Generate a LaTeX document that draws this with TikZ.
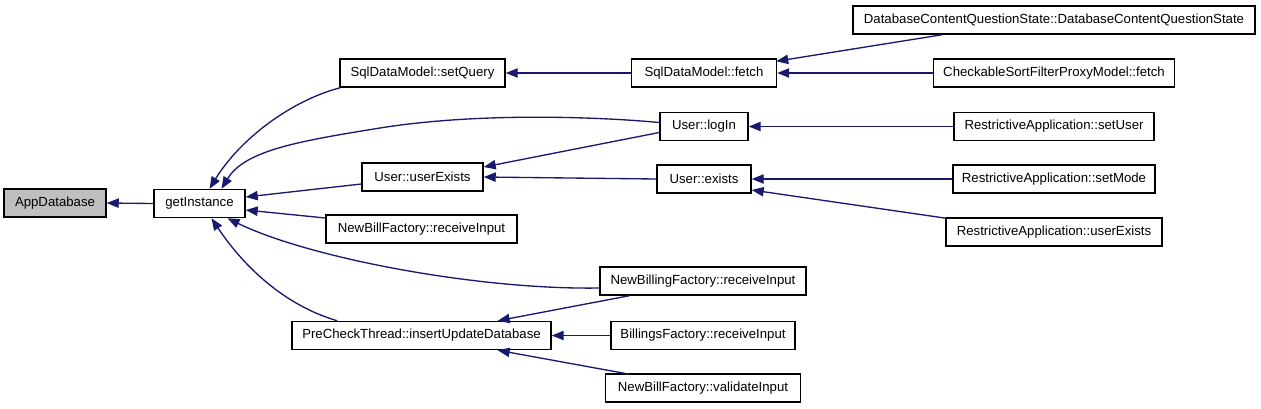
\documentclass[tikz,border=0pt]{standalone}
\usepackage{fontspec}
\setmainfont{Liberation Sans}
\usetikzlibrary{arrows.meta,calc}
\definecolor{navy}{RGB}{25,25,112}
\definecolor{boxgray}{RGB}{191,191,191}
\begin{document}
\begin{tikzpicture}[x=0.75pt,y=-0.75pt,
  box/.style={draw=black,line width=1.1pt,fill=white,inner sep=0pt,
    minimum height=21pt,font=\fontsize{9.9}{11}\selectfont},
  bw/.style={minimum width=#1*0.75pt},
  edge/.style={draw=navy,line width=1pt,-{Triangle[length=9pt,width=7pt]}}]
\useasboundingbox[fill=white] (0,0) rectangle (1261,408);
% column 0
\node[box,bw=102,fill=boxgray] (app) at (55,203) {AppDatabase};
% column 1
\node[box,bw=91] (getI) at (199.5,203.5) {getInstance};
% column 2
\node[box,bw=165] (setQuery) at (422.5,73) {SqlDataModel::setQuery};
\node[box,bw=121] (userExists) at (422.5,177) {User::userExists};
\node[box,bw=191] (NBFrecv) at (421.5,229) {NewBillFactory::receiveInput};
\node[box,bw=259] (PreCheck) at (421.5,335.5) {PreCheckThread::insertUpdateDatabase};
% column 3
\node[box,bw=145] (fetch) at (704,73) {SqlDataModel::fetch};
\node[box,bw=88] (logIn) at (704,126.5) {User::logIn};
\node[box,bw=94] (exists) at (704,179) {User::exists};
\node[box,bw=206] (NBgF) at (703,281) {NewBillingFactory::receiveInput};
\node[box,bw=184] (Billings) at (703,335.5) {BillingsFactory::receiveInput};
\node[box,bw=195] (validate) at (703,388) {NewBillFactory::validateInput};
% column 4
\node[box,bw=402] (DBCQS) at (1054,20) {DatabaseContentQuestionState::DatabaseContentQuestionState};
\node[box,bw=241] (Checkable) at (1054,73) {CheckableSortFilterProxyModel::fetch};
\node[box,bw=200] (setUser) at (1054,126.5) {RestrictiveApplication::setUser};
\node[box,bw=202] (setMode) at (1054,179) {RestrictiveApplication::setMode};
\node[box,bw=216] (RAue) at (1054,232) {RestrictiveApplication::userExists};
% edges
\draw[edge] (getI.west) -- (app.east);
\draw[edge] ($(setQuery.south west)+(1,0)$) .. controls +(-50,13) and +(30,-49) .. ($(getI.north)+(10,0)$);
\draw[edge] ($(logIn.west)+(0,-4)$) .. controls (600,117) and (480,112) .. (380,128)
  .. controls (300,141) and (245,150) .. ($(getI.north)+(22,0)$);
\draw[edge] ($(userExists.west)+(0,7)$) -- ($(getI.east)+(0,-6.5)$);
\draw[edge] ($(NBFrecv.west)+(0,-11)$) -- ($(getI.east)+(0,6.5)$);
\draw[edge] ($(NBgF.west)+(0,7)$) .. controls +(-120,2) and +(82,40) .. ($(getI.south)+(28,0)$);
\draw[edge] ($(PreCheck.north west)+(46,0)$) .. controls +(-58,-17) and +(28,42) .. ($(getI.south)+(12,0)$);
\draw[edge] (fetch.west) -- (setQuery.east);
\draw[edge] ($(logIn.west)+(0,6)$) -- ($(userExists.east)+(0,-10)$);
\draw[edge] (exists.west) -- (userExists.east);
\draw[edge] ($(DBCQS.south west)+(90,0)$) -- ($(fetch.north east)+(-1,3)$);
\draw[edge] (Checkable.west) -- (fetch.east);
\draw[edge] (setUser.west) -- (logIn.east);
\draw[edge] (setMode.west) -- (exists.east);
\draw[edge] ($(RAue.north west)+(1,1)$) -- ($(exists.east)+(0,11)$);
\draw[edge] ($(NBgF.south west)+(30,0)$) -- ($(PreCheck.north east)+(-54,0)$);
\draw[edge] (Billings.west) -- (PreCheck.east);
\draw[edge] ($(validate.north west)+(25,1)$) -- ($(PreCheck.south east)+(-54,0)$);
\end{tikzpicture}
\end{document}
